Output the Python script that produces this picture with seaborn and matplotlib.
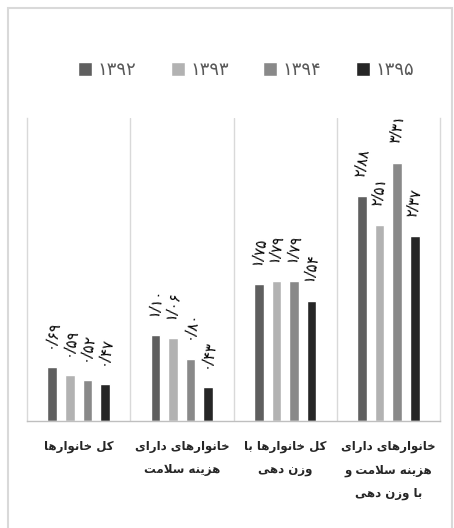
import numpy as np
import pandas as pd
import matplotlib.pyplot as plt
import seaborn as sns
from matplotlib.patches import Rectangle

# data
categories = [
    "کل خانوارها",
    "خانوارهای دارای\nهزینه سلامت",
    "کل خانوارها با\nوزن دهی",
    "خانوارهای دارای\nهزینه سلامت و\nبا وزن دهی",
]
years = ["۱۳۹۲", "۱۳۹۳", "۱۳۹۴", "۱۳۹۵"]
v_1392 = [0.69, 1.10, 1.75, 2.88]
v_1393 = [0.59, 1.06, 1.79, 2.51]
v_1394 = [0.52, 0.80, 1.79, 3.31]
v_1395 = [0.47, 0.43, 1.54, 2.37]
colors = ["#5f5f5f", "#b2b2b2", "#898989", "#262626"]

# minimal arabic shaping (matplotlib has no complex text layout)
FORMS = {
    "ا": ("\uFE8D", "\uFE8E", None, None),
    "ب": ("\uFE8F", "\uFE90", "\uFE91", "\uFE92"),
    "ت": ("\uFE95", "\uFE96", "\uFE97", "\uFE98"),
    "خ": ("\uFEA5", "\uFEA6", "\uFEA7", "\uFEA8"),
    "د": ("\uFEA9", "\uFEAA", None, None),
    "ر": ("\uFEAD", "\uFEAE", None, None),
    "ز": ("\uFEAF", "\uFEB0", None, None),
    "س": ("\uFEB1", "\uFEB2", "\uFEB3", "\uFEB4"),
    "ل": ("\uFEDD", "\uFEDE", "\uFEDF", "\uFEE0"),
    "م": ("\uFEE1", "\uFEE2", "\uFEE3", "\uFEE4"),
    "ن": ("\uFEE5", "\uFEE6", "\uFEE7", "\uFEE8"),
    "ه": ("\uFEE9", "\uFEEA", "\uFEEB", "\uFEEC"),
    "و": ("\uFEED", "\uFEEE", None, None),
    "ی": ("\uFBFC", "\uFBFD", "\uFBFE", "\uFBFF"),
    "ک": ("\uFB8E", "\uFB8F", "\uFB90", "\uFB91"),
}


def shape_line(text):
    res = []
    i = 0
    n = len(text)
    while i < n:
        c = text[i]
        if c not in FORMS:
            res.append(c)
            i += 1
            continue
        prev = text[i - 1] if i > 0 else None
        joins_prev = prev in FORMS and FORMS[prev][2] is not None
        if c == "ل" and i + 1 < n and text[i + 1] == "ا":
            res.append("\uFEFC" if joins_prev else "\uFEFB")
            i += 2
            continue
        nxt = text[i + 1] if i + 1 < n else None
        iso, fin, ini, med = FORMS[c]
        joins_next = ini is not None and nxt in FORMS
        if joins_prev and joins_next:
            res.append(med)
        elif joins_prev:
            res.append(fin)
        elif joins_next:
            res.append(ini)
        else:
            res.append(iso)
        i += 1
    return "".join(reversed(res))


def shape(text):
    return "\n".join(shape_line(t) for t in text.split("\n"))


def fa_num(v):
    s = f"{v:.2f}".replace(".", "/")
    return s.translate(str.maketrans("0123456789", "۰۱۲۳۴۵۶۷۸۹"))


df = pd.DataFrame({
    "cat": np.repeat(categories, 4),
    "year": years * 4,
    "value": [v for grp in zip(v_1392, v_1393, v_1394, v_1395) for v in grp],
})

sns.set_style("white")
plt.rcParams["font.family"] = ["DejaVu Sans"]

fig = plt.figure(figsize=(4.54, 5.28), dpi=100)
ax = fig.add_axes([27 / 454, 107 / 528, 413 / 454, 303 / 528])

sns.barplot(
    data=df,
    x="cat",
    y="value",
    hue="year",
    palette=colors,
    width=0.68,
    gap=0.45,
    ax=ax,
)

for cont, vals in zip(ax.containers, [v_1392, v_1393, v_1394, v_1395]):
    ax.bar_label(
        cont,
        labels=[fa_num(v) for v in vals],
        padding=13,
        rotation=80,
        fontsize=10.5,
        color="black",
    )

ax.set_xlim(-0.5, 3.5)
ax.set_ylim(0, 3.88)
ax.set_yticks([])
ax.set_xlabel("")
ax.set_ylabel("")
ax.set_xticks(range(len(categories)))
ax.set_xticklabels(
    [shape(c) for c in categories],
    fontsize=8.5,
    fontweight="bold",
    linespacing=2.0,
)
ax.tick_params(axis="x", length=0, pad=14)

for x in [0.5, 1.5, 2.5]:
    ax.axvline(x, color="#d9d9d9", linewidth=1, zorder=0)
ax.spines["top"].set_visible(False)
for side in ["left", "right"]:
    ax.spines[side].set_color("#d9d9d9")
    ax.spines[side].set_linewidth(1)
ax.spines["bottom"].set_color("#bfbfbf")
ax.spines["bottom"].set_linewidth(1)

sns.move_legend(
    ax,
    "center",
    bbox_to_anchor=(246 / 454, 1 - 70 / 528),
    bbox_transform=fig.transFigure,
    ncol=4,
    frameon=False,
    title=None,
    fontsize=13,
    handlelength=0.78,
    handleheight=0.78,
    handletextpad=0.3,
    columnspacing=1.9,
    labelcolor="#595959",
)

# light frame around the chart
fig.patches.append(Rectangle(
    (8 / 454, -0.01), 444 / 454, 1 - 8 / 528 + 0.01,
    transform=fig.transFigure,
    fill=False,
    edgecolor="#d9d9d9",
    linewidth=1.5,
))

fig.savefig("out.png", dpi=100)
